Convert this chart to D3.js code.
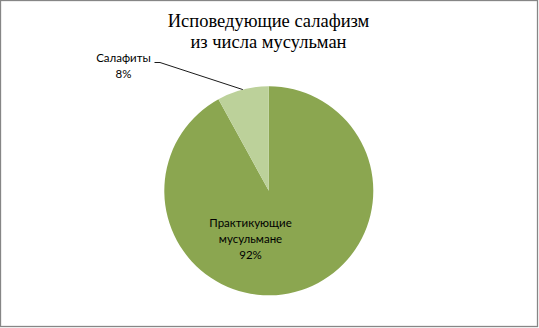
<!DOCTYPE html>
<html>
<head>
<meta charset="utf-8">
<script src="https://cdn.jsdelivr.net/npm/d3@7"></script>
<style>
  html, body { margin: 0; padding: 0; background: #fff; }
  svg { display: block; }
</style>
</head>
<body>
<svg id="chart" width="539" height="328"></svg>
<script>
// Share of practising Muslims who profess Salafism
const titleLines = ["Исповедующие салафизм", "из числа мусульман"];
const categories = ["Практикующие мусульмане", "Салафиты"];
const labelLines = [["Практикующие", "мусульмане"], ["Салафиты"]];
const values = [92, 8];
const colors = ["#8ba650", "#bcd19a"];

const svg = d3.select("#chart");
const W = 539, H = 328;

// outer frame
svg.append("rect")
  .attr("x", 0.5).attr("y", 0.5)
  .attr("width", W - 2).attr("height", H - 2)
  .attr("fill", "#fff")
  .attr("stroke", "#868686").attr("stroke-width", 1.3);

// title
const title = svg.append("text")
  .attr("text-anchor", "middle")
  .attr("font-family", "'Liberation Serif', 'Times New Roman', serif")
  .attr("font-size", 18.5)
  .attr("fill", "#000");
titleLines.forEach((t, i) => {
  title.append("tspan").attr("x", 268.5).attr("y", 27 + i * 20.5).text(t);
});

const cx = 268.8, cy = 190.8, r = 104.5;
const g = svg.append("g").attr("transform", `translate(${cx},${cy})`);

const data = categories.map((c, i) => ({ name: c, value: values[i], color: colors[i], lines: labelLines[i] }));
const pie = d3.pie().sort(null).value(d => d.value);
const arc = d3.arc().innerRadius(0).outerRadius(r);
const arcs = pie(data);

g.selectAll("path.slice")
  .data(arcs)
  .join("path")
  .attr("class", "slice")
  .attr("d", arc)
  .attr("fill", d => d.data.color);

const font = "Lato, 'Open Sans', sans-serif";
const pct = d => d3.format(".0%")(d.data.value / d3.sum(values));

// label inside the large slice
const big = arcs[0];
const bigText = svg.append("text")
  .attr("text-anchor", "middle")
  .attr("font-family", font)
  .attr("font-size", 11.5)
  .attr("fill", "#000");
[...big.data.lines, pct(big)].forEach((t, i) => {
  bigText.append("tspan").attr("x", 250.5).attr("y", 227 + i * 16).text(t);
});

// outside label of the small slice with a leader line
const small = arcs[1];
const midA = (small.startAngle + small.endAngle) / 2;
const edge = [cx + Math.sin(midA) * r, cy - Math.cos(midA) * r];
svg.append("polyline")
  .attr("points", [[154.5, 62.5], [160, 62.5], edge].map(p => p.join(",")).join(" "))
  .attr("fill", "none")
  .attr("stroke", "#000")
  .attr("stroke-width", 0.9);

const smallText = svg.append("text")
  .attr("text-anchor", "middle")
  .attr("font-family", font)
  .attr("font-size", 11.5)
  .attr("fill", "#000");
[...small.data.lines, pct(small)].forEach((t, i) => {
  smallText.append("tspan").attr("x", 123.5).attr("y", 62 + i * 15.5).text(t);
});
</script>
</body>
</html>
